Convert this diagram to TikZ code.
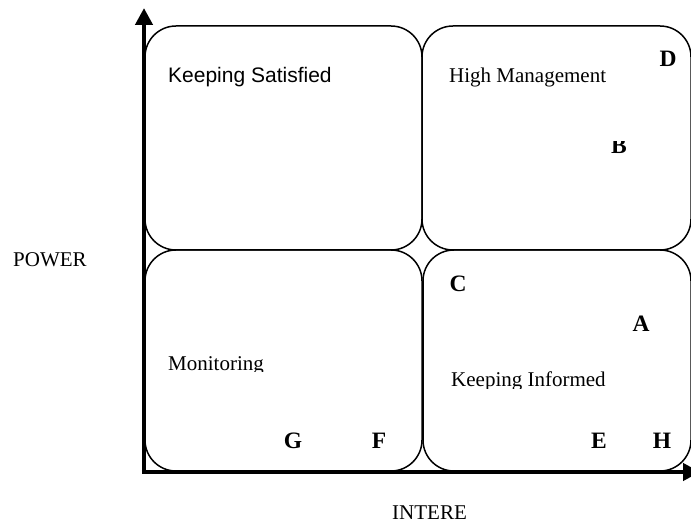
\documentclass[tikz,border=0pt]{standalone}
\usepackage{fontspec}
\setmainfont{Liberation Serif}
\newfontfamily\arialfont{Liberation Sans}
\usetikzlibrary{arrows.meta}
\tikzset{
  quadrant/.style={draw=black, line width=1.5pt, rounded corners=31pt},
  axisline/.style={draw=black, line width=4.5pt, -{Triangle[length=17pt,width=17pt]}},
  label/.style={inner sep=0pt, font=\fontsize{21}{25}\selectfont},
  sublabel/.style={inner sep=0pt, font=\arialfont\fontsize{21}{25}\selectfont},
  mark letter/.style={inner sep=0pt, anchor=base, font=\bfseries\fontsize{23.5}{28}\selectfont}
}
\begin{document}
\begin{tikzpicture}[x=1pt,y=-1pt]
  \clip (0,0) rectangle (691,526);
  \fill[white] (0,0) rectangle (691,526);

  % four quadrants
  \draw[quadrant] (145,26) rectangle (422,250);
  \draw[quadrant] (422,26) rectangle (691,250);
  \draw[quadrant] (145,250) rectangle (422,471);
  \draw[quadrant] (423,250) rectangle (691,471);

  % axes
  \coordinate (origin) at (144,472);
  \coordinate (ytip) at (144,8);
  \coordinate (xtip) at (700,472);
  \draw[axisline] (origin) -- (ytip);
  \draw[axisline] ([xshift=-2.25pt]origin) -- (xtip);

  % quadrant titles
  \node[sublabel, anchor=base west] (ks) at (168,83) {Keeping Satisfied};
  \node[label, anchor=base west] (hm) at (449,83) {High Management};
  \begin{scope}
    \clip (150,300) rectangle (420,372);
    \node[label, anchor=base west] (mon) at (168,371) {Monitoring};
  \end{scope}
  \begin{scope}
    \clip (430,340) rectangle (680,388.5);
    \node[label, anchor=base west] (ki) at (451,387) {Keeping Informed};
  \end{scope}

  % stakeholder letters
  \node[mark letter] (D) at (668,67) {D};
  \begin{scope}
    \clip (600,142) rectangle (640,160);
    \node[mark letter] (B) at (619,154) {B};
  \end{scope}
  \node[mark letter] (C) at (458,292) {C};
  \node[mark letter] (A) at (641,332) {A};
  \node[mark letter] (G) at (293,449) {G};
  \node[mark letter] (F) at (379,449) {F};
  \node[mark letter] (E) at (599,449) {E};
  \node[mark letter] (H) at (662,449) {H};

  % axis titles
  \node[label, anchor=base west] (power) at (13,267) {POWER};
  \node[label, anchor=base west] (interest) at (392,519) {INTERE};
\end{tikzpicture}
\end{document}
